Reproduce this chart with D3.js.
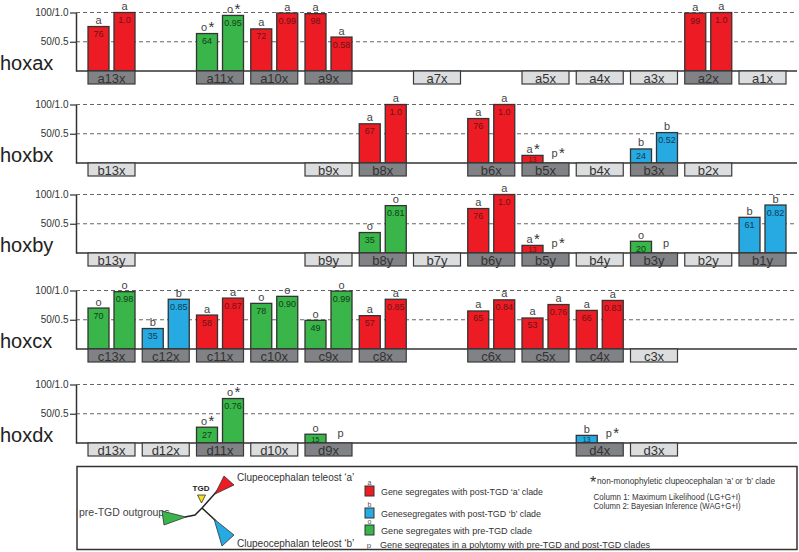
<!DOCTYPE html>
<html>
<head>
<meta charset="utf-8">
<script src="https://cdn.jsdelivr.net/npm/d3@7"></script>
<style>
  body { margin: 0; background: #ffffff; }
  svg { display: block; font-family: "Liberation Sans", Arial, sans-serif; }
</style>
</head>
<body>
<script>
// ---------------- DATA ----------------
const clusters = ["hoxax", "hoxbx", "hoxby", "hoxcx", "hoxdx"];
const tickValues = [50, 100];
const tickLabels = ["50/0.5", "100/1.0"];

// hoxax
const hoxaxGenes = ["a13x", "a11x", "a10x", "a9x", "a7x", "a5x", "a4x", "a3x", "a2x", "a1x"];
const hoxaxML    = [76, 64, 72, 98, null, null, null, null, 99, null];
const hoxaxBI    = [1.0, 0.95, 0.99, 0.58, null, null, null, null, 1.0, null];
const hoxaxTagML = ["a", "o*", "a", "a", "", "", "", "", "a", ""];
const hoxaxTagBI = ["a", "o*", "a", "a", "", "", "", "", "a", ""];

// hoxbx
const hoxbxGenes = ["b13x", "b9x", "b8x", "b6x", "b5x", "b4x", "b3x", "b2x"];
const hoxbxML    = [null, null, 67, 76, 13, null, 24, null];
const hoxbxBI    = [null, null, 1.0, 1.0, null, null, 0.52, null];
const hoxbxTagML = ["", "", "a", "a", "a*", "", "b", ""];
const hoxbxTagBI = ["", "", "a", "a", "p*", "", "b", ""];

// hoxby
const hoxbyGenes = ["b13y", "b9y", "b8y", "b7y", "b6y", "b5y", "b4y", "b3y", "b2y", "b1y"];
const hoxbyML    = [null, null, 35, null, 76, 13, null, 20, null, 61];
const hoxbyBI    = [null, null, 0.81, null, 1.0, null, null, null, null, 0.82];
const hoxbyTagML = ["", "", "o", "", "a", "a*", "", "o", "", "b"];
const hoxbyTagBI = ["", "", "o", "", "a", "p*", "", "p", "", "b"];

// hoxcx
const hoxcxGenes = ["c13x", "c12x", "c11x", "c10x", "c9x", "c8x", "c6x", "c5x", "c4x", "c3x"];
const hoxcxML    = [70, 35, 58, 78, 49, 57, 65, 53, 66, null];
const hoxcxBI    = [0.98, 0.85, 0.87, 0.90, 0.99, 0.85, 0.84, 0.76, 0.83, null];
const hoxcxTagML = ["o", "b", "a", "o", "o", "a", "a", "a", "a", ""];
const hoxcxTagBI = ["o", "b", "a", "o", "o", "a", "a", "a", "a", ""];

// hoxdx
const hoxdxGenes = ["d13x", "d12x", "d11x", "d10x", "d9x", "d4x", "d3x"];
const hoxdxML    = [null, null, 27, null, 15, 13, null];
const hoxdxBI    = [null, null, 0.76, null, null, null, null];
const hoxdxTagML = ["", "", "o*", "", "o", "b", ""];
const hoxdxTagBI = ["", "", "o*", "", "p", "p*", ""];

const legendItems = [
  "Gene segregates with post-TGD \u2018a\u2019 clade",
  "Genesegregates with post-TGD \u2018b\u2019 clade",
  "Gene segregates with pre-TGD clade",
  "Gene segregates in a polytomy with pre-TGD and post-TGD clades"
];
const legendKeys = ["a", "b", "o", "p"];

// ---------------- STYLE / LAYOUT ----------------
const W = 799, H = 552;
const fillColor = { a: "#ed1c24", b: "#27aae1", o: "#39b54a" };
const textColor = { a: "#6e1215", b: "#0c3a57", o: "#0e3f16" };
const baselines = [71, 163, 253, 349, 443];
const barMaxH = 58.5;

const panelData = [
  { genes: hoxaxGenes, ml: hoxaxML, bi: hoxaxBI, t1: hoxaxTagML, t2: hoxaxTagBI },
  { genes: hoxbxGenes, ml: hoxbxML, bi: hoxbxBI, t1: hoxbxTagML, t2: hoxbxTagBI },
  { genes: hoxbyGenes, ml: hoxbyML, bi: hoxbyBI, t1: hoxbyTagML, t2: hoxbyTagBI },
  { genes: hoxcxGenes, ml: hoxcxML, bi: hoxcxBI, t1: hoxcxTagML, t2: hoxcxTagBI },
  { genes: hoxdxGenes, ml: hoxdxML, bi: hoxdxBI, t1: hoxdxTagML, t2: hoxdxTagBI }
];

const svg = d3.select("body").append("svg").attr("width", W).attr("height", H);

// paralog group position (13 ... 1)
const x = d3.scaleBand().domain(d3.range(13, 0, -1)).range([88, 786])
  .paddingInner(0.1336).paddingOuter(0);
const xs = d3.scaleBand().domain(["ML", "BI"]).range([0, x.bandwidth()])
  .paddingInner(0.192).paddingOuter(0);

function drawTag(g, tag, cx, yBase) {
  if (!tag) return;
  const letter = tag.replace("*", "");
  const star = tag.includes("*");
  const lx = star ? cx - 3 : cx;
  g.append("text").attr("x", lx).attr("y", yBase).attr("text-anchor", "middle")
    .attr("font-size", 11).attr("fill", "#444").text(letter);
  if (star) {
    g.append("text").attr("x", lx + 7.5).attr("y", yBase + 1).attr("text-anchor", "middle")
      .attr("font-size", 15).attr("fill", "#333").text("*");
  }
}

const fmtBI = v => v === 1 ? "1.0" : v.toFixed(2);

panelData.forEach((p, pi) => {
  const base = baselines[pi];
  const y = d3.scaleLinear().domain([0, 100]).range([base, base - barMaxH]);
  const g = svg.append("g");

  // dashed grid lines
  g.selectAll("line.grid").data(tickValues).join("line")
    .attr("x1", 76).attr("x2", 796)
    .attr("y1", d => y(d)).attr("y2", d => y(d))
    .attr("stroke", "#555").attr("stroke-width", 0.9).attr("stroke-dasharray", "4,3");

  const rows = p.genes.map((name, i) => ({
    name, pos: +name.match(/\d+/)[0],
    ml: p.ml[i], bi: p.bi[i], t1: p.t1[i], t2: p.t2[i]
  }));

  const bars = [];
  rows.forEach(r => {
    if (r.ml != null) bars.push({ pos: r.pos, col: "ML", v: r.ml, label: String(r.ml), clade: r.t1[0] });
    if (r.bi != null) bars.push({ pos: r.pos, col: "BI", v: r.bi * 100, label: fmtBI(r.bi), clade: r.t2[0] });
  });

  g.selectAll("rect.bar").data(bars).join("rect")
    .attr("x", d => x(d.pos) + xs(d.col))
    .attr("y", d => y(d.v))
    .attr("width", xs.bandwidth())
    .attr("height", d => y(0) - y(d.v))
    .attr("fill", d => fillColor[d.clade])
    .attr("stroke", "#333").attr("stroke-width", 1.3);

  const small = d => (y(0) - y(d.v)) < 10;
  g.selectAll("text.val").data(bars).join("text")
    .attr("x", d => x(d.pos) + xs(d.col) + xs.bandwidth() / 2)
    .attr("y", d => small(d) ? y(0) - 1.2 : Math.min(y(d.v) + 10.5, y(0) - 0.8))
    .attr("text-anchor", "middle").attr("font-size", d => small(d) ? 7 : 9)
    .attr("fill", d => textColor[d.clade]).text(d => d.label);

  // clade tags above bars
  rows.forEach(r => {
    [["ML", r.ml == null ? null : r.ml, r.t1], ["BI", r.bi == null ? null : r.bi * 100, r.t2]].forEach(([col, v, tag]) => {
      if (!tag) return;
      const cx = x(r.pos) + xs(col) + xs.bandwidth() / 2;
      const yb = v == null ? y(0) - 6 : y(v) - 2.5;
      drawTag(g, tag, v == null ? cx - 1 : cx, yb);
    });
  });

  // baseline
  g.append("line").attr("x1", 76).attr("x2", 797).attr("y1", base).attr("y2", base)
    .attr("stroke", "#333").attr("stroke-width", 1.5);

  // axis
  const axis = d3.axisLeft(y).tickValues(tickValues)
    .tickFormat((d, i) => tickLabels[i]).tickSize(6).tickSizeOuter(0);
  const ag = g.append("g").attr("transform", "translate(76,0)").call(axis);
  ag.select(".domain").attr("stroke", "#333").attr("stroke-width", 1.5);
  ag.selectAll(".tick line").attr("stroke", "#333").attr("stroke-width", 1.2);
  ag.selectAll(".tick text").attr("font-size", 10).attr("fill", "#333")
    .attr("font-family", "Liberation Sans, Arial, sans-serif").attr("x", -7.5);

  // gene boxes
  const hasData = r => r.ml != null || r.bi != null || r.t1 || r.t2;
  g.selectAll("rect.box").data(rows).join("rect")
    .attr("x", d => x(d.pos)).attr("y", base)
    .attr("width", x.bandwidth()).attr("height", 13)
    .attr("fill", d => hasData(d) ? "#808285" : "#dcdddf")
    .attr("stroke", "#3a3a3a").attr("stroke-width", 1.2);
  g.selectAll("text.box").data(rows).join("text")
    .attr("x", d => x(d.pos) + x.bandwidth() / 2).attr("y", base + 12)
    .attr("text-anchor", "middle").attr("font-size", 13).attr("fill", "#333")
    .text(d => d.name);

  // cluster label
  g.append("text").attr("x", 0).attr("y", base - 1)
    .attr("font-size", 20).attr("fill", "#222").text(clusters[pi]);
});

// ---------------- LEGEND ----------------
const lg = svg.append("g");
lg.append("rect").attr("x", 77).attr("y", 466.5).attr("width", 720).attr("height", 83)
  .attr("fill", "none").attr("stroke", "#333").attr("stroke-width", 1.5);

// tree
lg.append("text").attr("x", 79).attr("y", 516).attr("font-size", 10.5).attr("fill", "#444")
  .text("pre-TGD outgroups");
const line = d3.line();
lg.append("path").attr("d", line([[185, 517], [195, 515], [202, 508]]))
  .attr("fill", "none").attr("stroke", "#222").attr("stroke-width", 1.5);
lg.append("path").attr("d", line([[202, 508], [218, 490]]))
  .attr("fill", "none").attr("stroke", "#222").attr("stroke-width", 1.5);
lg.append("path").attr("d", line([[202, 508], [216, 521]]))
  .attr("fill", "none").attr("stroke", "#222").attr("stroke-width", 1.5);
lg.append("path").attr("d", line([[162, 511], [164, 525], [186, 517]]) + "Z")
  .attr("fill", fillColor.o).attr("stroke", "#333").attr("stroke-width", 0.8);
lg.append("path").attr("d", line([[215, 494], [224, 476], [234, 485]]) + "Z")
  .attr("fill", fillColor.a).attr("stroke", "#333").attr("stroke-width", 0.8);
lg.append("path").attr("d", line([[214, 519], [234, 535], [222, 546]]) + "Z")
  .attr("fill", fillColor.b).attr("stroke", "#333").attr("stroke-width", 0.8);
lg.append("path").attr("d", line([[197.5, 495], [205.5, 495], [201.5, 503]]) + "Z")
  .attr("fill", "#f2e21b").attr("stroke", "#333").attr("stroke-width", 0.8);
lg.append("text").attr("x", 201).attr("y", 491).attr("text-anchor", "middle")
  .attr("font-size", 8).attr("font-weight", "bold").attr("fill", "#222").text("TGD");
lg.append("text").attr("x", 237).attr("y", 481).attr("font-size", 10).attr("fill", "#333")
  .text("Clupeocephalan teleost \u2018a\u2019");
lg.append("text").attr("x", 237).attr("y", 547).attr("font-size", 10).attr("fill", "#333")
  .text("Clupeocephalan teleost \u2018b\u2019");

// key
const keyY = [486, 508, 525, 548];
const keyLen = [162, 160, 151, 270];
legendKeys.forEach((k, i) => {
  if (k !== "p") {
    lg.append("rect").attr("x", 365).attr("y", keyY[i]).attr("width", 9).attr("height", 10)
      .attr("fill", fillColor[k]).attr("stroke", "#333").attr("stroke-width", 1);
    lg.append("text").attr("x", 369.5).attr("y", keyY[i] - 1.5).attr("text-anchor", "middle")
      .attr("font-size", 7).attr("fill", "#555").text(k);
    lg.append("text").attr("x", 381).attr("y", keyY[i] + 8.5).attr("font-size", 9).attr("fill", "#333")
      .attr("textLength", keyLen[i]).attr("lengthAdjust", "spacingAndGlyphs").text(legendItems[i]);
  } else {
    lg.append("text").attr("x", 369).attr("y", keyY[i]).attr("text-anchor", "middle")
      .attr("font-size", 8).attr("fill", "#555").text("p");
    lg.append("text").attr("x", 380).attr("y", keyY[i]).attr("font-size", 9).attr("fill", "#333")
      .attr("textLength", keyLen[i]).attr("lengthAdjust", "spacingAndGlyphs").text(legendItems[i]);
  }
});

lg.append("text").attr("x", 593).attr("y", 488).attr("text-anchor", "middle")
  .attr("font-size", 16).attr("fill", "#333").text("*");
lg.append("text").attr("x", 597).attr("y", 484).attr("font-size", 8.5).attr("fill", "#333")
  .attr("textLength", 178).attr("lengthAdjust", "spacingAndGlyphs")
  .text("non-monophyletic clupeocephalan \u2018a\u2019 or \u2018b\u2019  clade");
lg.append("text").attr("x", 593.5).attr("y", 499.5).attr("font-size", 8.5).attr("fill", "#333")
  .attr("textLength", 147).attr("lengthAdjust", "spacingAndGlyphs")
  .text("Column 1: Maximum Likelihood (LG+G+I)");
lg.append("text").attr("x", 593.5).attr("y", 508.5).attr("font-size", 8.5).attr("fill", "#333")
  .attr("textLength", 147).attr("lengthAdjust", "spacingAndGlyphs")
  .text("Column 2: Bayesian Inference (WAG+G+I)");
</script>
</body>
</html>
